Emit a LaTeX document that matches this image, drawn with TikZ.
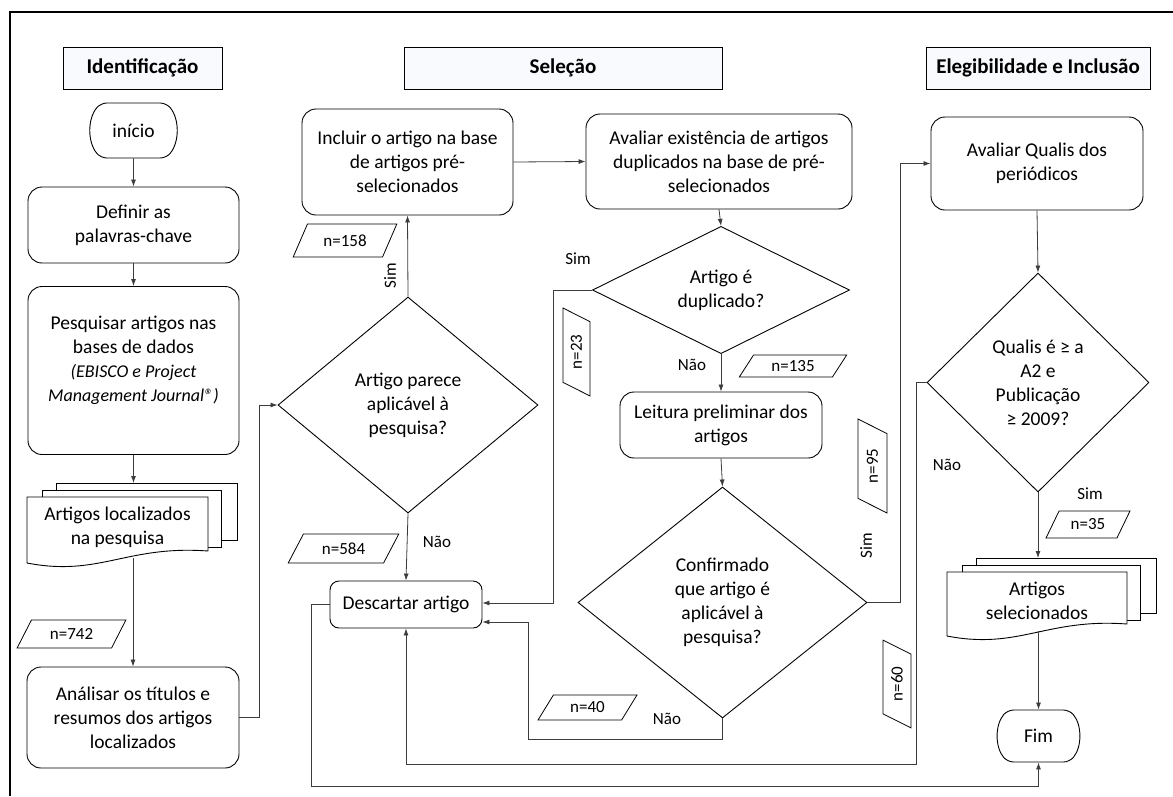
\documentclass[tikz,border=0pt]{standalone}
\usepackage{fontspec}
\setmainfont{Carlito}
\usetikzlibrary{shapes.geometric,shapes.misc,arrows.meta,calc}

\newcommand\corpo{\fontsize{19.5}{24}\selectfont}
\newcommand\miudo{\fontsize{17}{20}\selectfont}
\definecolor{fundofase}{RGB}{248,250,253}
\definecolor{traco}{RGB}{60,60,60}

\tikzset{
  caixa/.style={draw, rounded corners=14pt, align=center, inner sep=0pt, line width=0.9pt, font=\corpo},
  terminal/.style={draw, rounded rectangle, rounded rectangle arc length=80, rounded corners=6pt, inner sep=0pt, line width=0.9pt, font=\corpo},
  decisao/.style={draw, diamond, align=center, inner sep=0pt, line width=0.9pt, font=\corpo},
  dado/.style={draw, trapezium, trapezium left angle=55, trapezium right angle=125, trapezium stretches=true, inner sep=0pt, line width=0.8pt, font=\miudo},
  rotulo/.style={font=\miudo, inner sep=0pt},
  fase/.style={draw, fill=fundofase, inner sep=0pt, line width=0.9pt, font=\bfseries\fontsize{21}{25}\selectfont},
  folha/.style={line width=0.9pt},
  seta/.style={draw=traco, line width=0.8pt, -{Latex[length=7pt,width=5pt]}},
  linha/.style={draw=traco, line width=0.8pt},
}

% nome, esquerda, topo, largura, altura, texto
\newcommand\pilhadoc[6]{%
  \draw[folha] ({#2+29},{#3-7}) -- ({#2+29},{#3-14}) -- ({#2+#4+29},{#3-14}) -- ({#2+#4+29},{#3+#5-23}) -- ({#2+#4+13},{#3+#5-23});
  \draw[folha] ({#2+15},#3) -- ({#2+15},{#3-7}) -- ({#2+#4+13},{#3-7}) -- ({#2+#4+13},{#3+#5-16}) -- ({#2+#4},{#3+#5-16});
  \draw[folha, fill=white] (#2,#3) -- ({#2+#4},#3) -- ({#2+#4},{#3+#5-12})
     .. controls ({#2+0.55*#4},{#3+#5-18}) and ({#2+0.4*#4},{#3+#5+14}) .. (#2,{#3+#5}) -- cycle;
  \node[align=center, font=\corpo, inner sep=0pt] (#1) at ({#2+#4/2},{#3+#5/2-3}) {#6};
  \coordinate (#1topo) at ({#2+#4/2},{#3-14});
  \coordinate (#1base) at ({#2+#4/2},{#3+#5-5});
}

\begin{document}
\begin{tikzpicture}[x=1pt,y=-1pt]
\useasboundingbox (0,0) rectangle (1173,796);
\draw[line width=2.5pt] (10,796) -- (10,12) -- (1173,12);

\node[fase, minimum width=159, minimum height=42] (identificacao) at (142.5,68) {Identificação};
\node[fase, minimum width=318, minimum height=42] (selecao) at (563,68) {Seleção};
\node[fase, minimum width=224, minimum height=42] (elegibilidade) at (1038,68) {Elegibilidade e Inclusão};

\node[terminal, minimum width=73, minimum height=55] (inicio) at (133.5,130.5) {início};
\node[caixa, minimum width=211, minimum height=76] (definir) at (133.5,225) {Definir as\\palavras-chave};
\node[caixa, minimum width=211, minimum height=168] (pesquisar) at (133.5,370.5) {};
\node[align=center, font=\corpo, inner sep=0pt] (pesqtexto) at (133.5,360) {Pesquisar artigos nas\\bases de dados\\{\fontsize{18}{23}\selectfont\itshape (EBISCO e Project}\\{\fontsize{18}{23}\selectfont\itshape Management Journal®)}};
\pilhadoc{localizados}{27}{497}{181}{66}{Artigos localizados\\na pesquisa}
\node[dado, minimum width=109, minimum height=28] (n742) at (71.5,634) {n=742};
\node[caixa, minimum width=212, minimum height=101] (analisar) at (133,717.5) {Análisar os títulos e\\resumos dos artigos\\localizados};

\node[decisao, minimum width=260, minimum height=216] (parece) at (408,405) {Artigo parece\\aplicável à\\pesquisa?};
\node[caixa, minimum width=211, minimum height=106] (incluir) at (407.5,162) {Incluir o artigo na base\\de artigos pré-\\selecionados};
\node[dado, minimum width=104, minimum height=33] (n158) at (345,240.5) {n=158};
\node[rotulo, rotate=90] (sim1) at (390,276) {Sim};
\node[dado, minimum width=111, minimum height=29] (n584) at (343.5,548.5) {n=584};
\node[rotulo] (nao1) at (437,542) {Não};
\node[caixa, rounded corners=9pt, minimum width=152, minimum height=47] (descartar) at (406,604.5) {Descartar artigo};

\node[caixa, minimum width=266, minimum height=95] (avaliar) at (719,161.5) {Avaliar existência de artigos\\duplicados na base de pré-\\selecionados};
\node[decisao, minimum width=257, minimum height=116] (duplicado) at (721,290) {Artigo é\\duplicado?};
\node[rotulo] (sim2) at (578,259) {Sim};
\node[dado, rotate=90, minimum width=88, minimum height=27] (n23) at (576.5,352) {n=23};
\node[rotulo] (nao2) at (692,365) {Não};
\node[dado, minimum width=108, minimum height=22] (n135) at (793,366) {n=135};
\node[caixa, minimum width=202, minimum height=66] (leitura) at (721,425) {Leitura preliminar dos\\artigos};
\node[decisao, minimum width=289, minimum height=231] (confirmado) at (722.5,602.5) {Confirmado\\que artigo é\\aplicável à\\pesquisa?};
\node[dado, rotate=90, minimum width=94, minimum height=29] (n95) at (872.5,466) {n=95};
\node[rotulo, rotate=90] (sim3) at (866,546) {Sim};
\node[dado, minimum width=99, minimum height=25] (n40) at (587.5,707.5) {n=40};
\node[rotulo] (nao3) at (667,719) {Não};

\node[caixa, minimum width=212, minimum height=93] (qualis) at (1037,163.5) {Avaliar Qualis dos\\periódicos};
\node[decisao, minimum width=222, minimum height=219] (criterio) at (1038,382.5) {Qualis é ≥ a\\A2 e\\Publicação\\≥ 2009?};
\node[rotulo] (nao4) at (947,465) {Não};
\node[rotulo] (sim4) at (1090,494) {Sim};
\node[dado, minimum width=84, minimum height=27] (n35) at (1088,524.5) {n=35};
\node[dado, rotate=90, minimum width=88, minimum height=28] (n60) at (897,684) {n=60};
\pilhadoc{selecionados}{947}{572}{180}{64}{Artigos\\selecionados}
\node[terminal, minimum width=61, minimum height=52] (fim) at (1038.5,736) {Fim};

\draw[seta] (inicio) -- (definir);
\draw[seta] (definir) -- (pesquisar);
\draw[seta] (pesquisar.south) -- (pesquisar.south |- localizadostopo);
\draw[seta] (analisar.north |- localizadosbase) -- (analisar.north);
\draw[seta] (analisar.east) -- (259,717.5) -- (259,405) -- (parece.west);
\draw[seta] (parece.north) -- (incluir.south);
\draw[seta] (parece.south) -- (descartar.north);
\draw[seta] (incluir.east) -- (avaliar.west);
\draw[seta] (avaliar.south) -- (duplicado.north);
\draw[seta] (duplicado.west) -- (553,290) -- (553,603) -- (descartar.east |- 0,603);
\draw[seta] (duplicado.south) -- (leitura.north);
\draw[seta] (leitura.south) -- (confirmado.north);
\draw[seta] (confirmado.south) -- (722.5,739) -- (528,739) -- (528,622) -- (descartar.east |- 0,622);
\draw[seta] (confirmado.east) -- (900,602.5) -- (900,163.5) -- (qualis.west);
\draw[seta] (qualis.south) -- (criterio.north);
\draw[seta] (criterio.west) -- (916,382.5) -- (916,764) -- (406,764) -- (descartar.south);
\draw[seta] (criterio.south) -- (criterio.south |- selecionadostopo);
\draw[seta] (fim.north |- selecionadosbase) -- (fim.north);
\draw[seta] (descartar.west) -- (311,604.5) -- (311,786) -- (1038.5,786) -- (fim.south);
\end{tikzpicture}
\end{document}
